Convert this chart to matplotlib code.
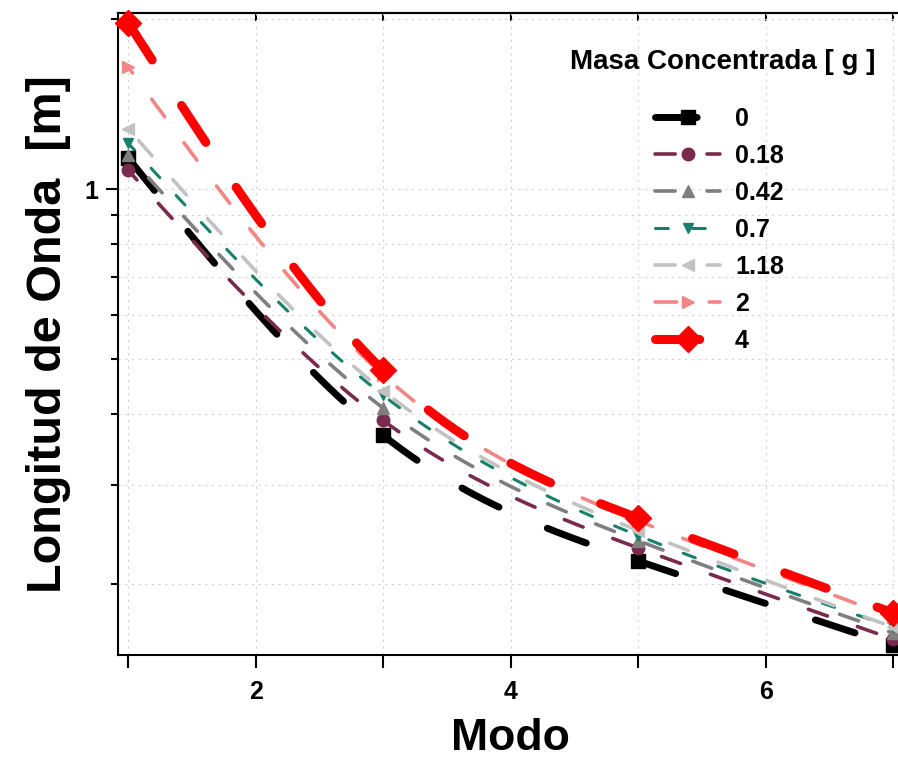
import numpy as np
import matplotlib
matplotlib.use("Agg")
import matplotlib.pyplot as plt
from matplotlib.lines import Line2D
from matplotlib.ticker import FixedLocator, NullFormatter, FixedFormatter

plt.rcParams['font.family'] = ['Liberation Sans', 'DejaVu Sans']
plt.rcParams['font.weight'] = 'bold'

# ---- data ----
modes = [1, 3, 5, 7]
masses = ["0", "0.18", "0.42", "0.7", "1.18", "2", "4"]
wl_0 = [1.135, 0.367, 0.220, 0.156]
wl_018 = [1.08, 0.390, 0.232, 0.160]
wl_042 = [1.148, 0.410, 0.239, 0.164]
wl_07 = [1.206, 0.432, 0.244, 0.168]
wl_118 = [1.28, 0.440, 0.249, 0.168]
wl_2 = [1.644, 0.469, 0.259, 0.175]
wl_4 = [1.97, 0.478, 0.262, 0.178]
series = [wl_0, wl_018, wl_042, wl_07, wl_118, wl_2, wl_4]

colors = ["#000000", "#7A2A4C", "#7F7F7F", "#17806B", "#C2C2C2", "#F28585", "#FF0000"]
markers = ["s", "o", "^", "v", "<", ">", "D"]
msizes = [10, 9, 9, 7, 9, 9, 13]
lws = [5.0, 2.6, 2.6, 2.2, 2.6, 2.6, 6.5]
dashes = [(6, 7.6), (5.6, 8.8), (5.6, 8.8), (4.2, 7.9), (5.6, 8.8), (6.0, 9.0), (4.9, 6.0)]
offsets = [0, 2, 6, 1, 10, 4, 0]


def natural_spline(x, y, xs):
    x = np.asarray(x, float)
    y = np.asarray(y, float)
    n = len(x)
    h = np.diff(x)
    A = np.zeros((n, n))
    b = np.zeros(n)
    A[0, 0] = 1
    A[-1, -1] = 1
    for i in range(1, n - 1):
        A[i, i - 1] = h[i - 1]
        A[i, i] = 2 * (h[i - 1] + h[i])
        A[i, i + 1] = h[i]
        b[i] = 6 * ((y[i + 1] - y[i]) / h[i] - (y[i] - y[i - 1]) / h[i - 1])
    M = np.linalg.solve(A, b)
    out = np.empty_like(xs)
    for k, xv in enumerate(xs):
        i = min(max(np.searchsorted(x, xv) - 1, 0), n - 2)
        t1 = x[i + 1] - xv
        t0 = xv - x[i]
        out[k] = (M[i] * t1 ** 3 / (6 * h[i]) + M[i + 1] * t0 ** 3 / (6 * h[i])
                  + (y[i] / h[i] - M[i] * h[i] / 6) * t1
                  + (y[i + 1] / h[i] - M[i + 1] * h[i] / 6) * t0)
    return out


W, H = 898, 758
fig = plt.figure(figsize=(W / 100, H / 100), dpi=100)
ax = fig.add_axes([118 / W, 1 - 655 / H, (902 - 118) / W, (655 - 13) / H])
ax.set_yscale('log')
ax.set_xlim(0.92, 7.07)
ax.set_ylim(0.150, 2.05)

xs = np.linspace(modes[0], modes[-1], 300)
handles = []
for i in range(len(series)):
    vals = series[i]
    ys = 10 ** natural_spline(modes, np.log10(vals), xs)
    ls = (offsets[i], dashes[i])
    ax.plot(xs, ys, color=colors[i], lw=lws[i], ls=ls, dash_capstyle='round',
            solid_capstyle='round', zorder=3 + i * 0.1)
    ax.plot(modes, vals, ls='none', marker=markers[i], ms=msizes[i], color=colors[i],
            mec=colors[i], zorder=4 + i * 0.1, clip_on=False)
    handles.append(Line2D([], [], color=colors[i], lw=lws[i], ls=(0, dashes[i]),
                          dash_capstyle='round', marker=markers[i], ms=msizes[i],
                          mec=colors[i]))

# ticks
ax.xaxis.set_major_locator(FixedLocator([2, 4, 6]))
ax.xaxis.set_minor_locator(FixedLocator([1, 3, 5, 7]))
ax.xaxis.set_major_formatter(FixedFormatter(["2", "4", "6"]))
ax.xaxis.set_minor_formatter(NullFormatter())
ax.yaxis.set_major_locator(FixedLocator([1]))
ax.yaxis.set_major_formatter(FixedFormatter(["1"]))
ax.yaxis.set_minor_locator(FixedLocator([0.2, 0.3, 0.4, 0.5, 0.6, 0.7, 0.8, 0.9, 2]))
ax.yaxis.set_minor_formatter(NullFormatter())

ax.tick_params(axis='x', which='both', direction='out', length=9, width=1.5,
               labelsize=18, pad=9)
ax.tick_params(axis='y', which='major', direction='out', length=9, width=1.5,
               labelsize=18, pad=5)
ax.tick_params(axis='y', which='minor', direction='out', length=5, width=1.5)
for lab in ax.get_xticklabels() + ax.get_yticklabels():
    lab.set_fontweight('bold')

for s in ax.spines.values():
    s.set_linewidth(1.5)

top = ax.secondary_xaxis('top')
top.xaxis.set_major_locator(FixedLocator([1, 2, 3, 4, 5, 6, 7]))
top.xaxis.set_major_formatter(NullFormatter())
top.tick_params(direction='in', length=6, width=1.5)
top.spines['top'].set_linewidth(1.5)

ax.grid(True, which='both', color='#d2d2d2', ls=(0, (2, 4)), lw=0.8)
ax.set_axisbelow(True)

ax.set_xlabel("Modo", fontsize=32, fontweight='bold', labelpad=10)
ax.set_ylabel("Longitud de Onda  [m]", fontsize=35, fontweight='bold', labelpad=10)

fig.text(723 / W, 1 - 62 / H, "Masa Concentrada [ g ]", fontsize=20, fontweight='bold',
         ha='center', va='center')
leg = fig.legend(handles, masses, loc='upper left',
                 bbox_to_anchor=(655 / W, 1 - 107 / H), frameon=False, fontsize=18,
                 handlelength=2.6, handletextpad=0.6, borderpad=0, borderaxespad=0,
                 labelspacing=0.52, numpoints=1)
for t in leg.get_texts():
    t.set_fontweight('bold')

fig.savefig("out.png", dpi=100)
